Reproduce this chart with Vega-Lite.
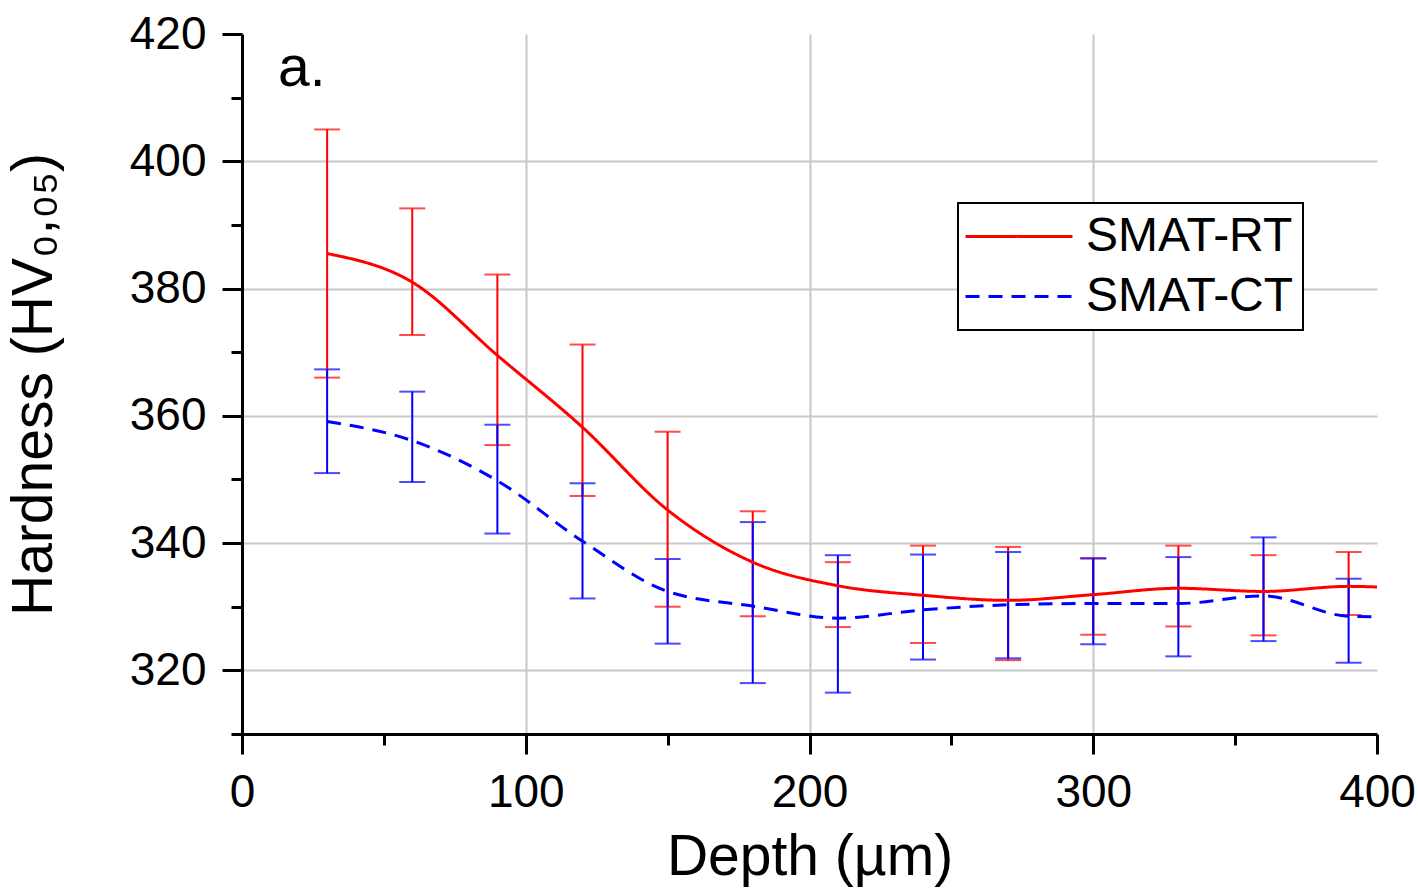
{
  "$schema": "https://vega.github.io/schema/vega-lite/v6.json",
  "width": 1135,
  "height": 700,
  "autosize": "none",
  "padding": {"left": 242, "top": 34, "right": 41, "bottom": 158},
  "background": "white",
  "config": {
    "view": {"stroke": null},
    "font": "Liberation Sans",
    "axis": {
      "domainColor": "black",
      "domainWidth": 3,
      "tickColor": "black",
      "tickWidth": 3,
      "labelFontSize": 46,
      "labelColor": "black",
      "labelFlush": false,
      "labelOverlap": false,
      "labelPadding": 16,
      "titleFontSize": 57,
      "titleFontWeight": "normal",
      "titleColor": "black",
      "gridColor": "#c8c8c8",
      "gridWidth": 2
    }
  },
  "data": {
    "values": [
      {"depth": 30, "series": "SMAT-RT", "hardness": 385.5, "lower": 366.0, "upper": 405.0},
      {"depth": 60, "series": "SMAT-RT", "hardness": 381.0, "lower": 372.7, "upper": 392.6},
      {"depth": 90, "series": "SMAT-RT", "hardness": 369.5, "lower": 355.4, "upper": 382.2},
      {"depth": 120, "series": "SMAT-RT", "hardness": 358.2, "lower": 347.4, "upper": 371.2},
      {"depth": 150, "series": "SMAT-RT", "hardness": 345.2, "lower": 330.0, "upper": 357.5},
      {"depth": 180, "series": "SMAT-RT", "hardness": 337.0, "lower": 328.5, "upper": 345.0},
      {"depth": 210, "series": "SMAT-RT", "hardness": 333.3, "lower": 326.8, "upper": 337.0},
      {"depth": 240, "series": "SMAT-RT", "hardness": 331.8, "lower": 324.3, "upper": 339.6},
      {"depth": 270, "series": "SMAT-RT", "hardness": 331.0, "lower": 321.6, "upper": 339.4},
      {"depth": 300, "series": "SMAT-RT", "hardness": 331.9, "lower": 325.6, "upper": 337.6},
      {"depth": 330, "series": "SMAT-RT", "hardness": 332.9, "lower": 326.9, "upper": 339.6},
      {"depth": 360, "series": "SMAT-RT", "hardness": 332.4, "lower": 325.5, "upper": 338.1},
      {"depth": 390, "series": "SMAT-RT", "hardness": 333.2, "lower": 328.7, "upper": 338.6},
      {"depth": 400, "series": "SMAT-RT", "hardness": 333.1, "lower": null, "upper": null},
      {"depth": 30, "series": "SMAT-CT", "hardness": 359.1, "lower": 351.0, "upper": 367.3},
      {"depth": 60, "series": "SMAT-CT", "hardness": 356.1, "lower": 349.6, "upper": 363.8},
      {"depth": 90, "series": "SMAT-CT", "hardness": 349.8, "lower": 341.5, "upper": 358.6},
      {"depth": 120, "series": "SMAT-CT", "hardness": 340.3, "lower": 331.3, "upper": 349.4},
      {"depth": 150, "series": "SMAT-CT", "hardness": 332.4, "lower": 324.2, "upper": 337.5},
      {"depth": 180, "series": "SMAT-CT", "hardness": 330.1, "lower": 318.0, "upper": 343.3},
      {"depth": 210, "series": "SMAT-CT", "hardness": 328.2, "lower": 316.5, "upper": 338.1},
      {"depth": 240, "series": "SMAT-CT", "hardness": 329.5, "lower": 321.7, "upper": 338.2},
      {"depth": 270, "series": "SMAT-CT", "hardness": 330.3, "lower": 321.9, "upper": 338.6},
      {"depth": 300, "series": "SMAT-CT", "hardness": 330.5, "lower": 324.1, "upper": 337.6},
      {"depth": 330, "series": "SMAT-CT", "hardness": 330.5, "lower": 322.2, "upper": 337.8},
      {"depth": 360, "series": "SMAT-CT", "hardness": 331.7, "lower": 324.6, "upper": 340.9},
      {"depth": 390, "series": "SMAT-CT", "hardness": 328.5, "lower": 321.2, "upper": 334.4},
      {"depth": 400, "series": "SMAT-CT", "hardness": 328.4, "lower": null, "upper": null}
    ]
  },
  "layer": [
    {
      "mark": {"type": "errorbar", "ticks": {"size": 26, "thickness": 2}, "thickness": 2},
      "encoding": {
        "x": {
          "field": "depth",
          "type": "quantitative",
          "scale": {"domain": [0, 400], "nice": false, "zero": false},
          "axis": {
            "title": "Depth (µm)",
            "titlePadding": 14,
            "values": [0, 50, 100, 150, 200, 250, 300, 350, 400],
            "labelExpr": "datum.value % 100 == 0 ? datum.label : ''",
            "tickSize": {"condition": {"test": "datum.value % 100 == 0", "value": 20}, "value": 11},
            "gridOpacity": {"condition": {"test": "datum.value % 100 != 0 || datum.value == 0 || datum.value == 400", "value": 0}, "value": 1}
          }
        },
        "y": {
          "field": "lower",
          "type": "quantitative",
          "scale": {"domain": [310, 420], "nice": false, "zero": false},
          "axis": {
            "title": "Hardness (HV₀,₀₅)",
            "titlePadding": 66,
            "values": [310, 320, 330, 340, 350, 360, 370, 380, 390, 400, 410, 420],
            "labelExpr": "datum.value % 20 == 0 ? datum.label : ''",
            "tickSize": {"condition": {"test": "datum.value % 20 == 0", "value": 20}, "value": 11},
            "gridOpacity": {"condition": {"test": "datum.value % 20 != 0 || datum.value >= 420", "value": 0}, "value": 1}
          }
        },
        "y2": {"field": "upper"},
        "color": {
          "field": "series",
          "type": "nominal",
          "scale": {"domain": ["SMAT-RT", "SMAT-CT"], "range": ["#ff0000", "#0000ff"]}
        }
      }
    },
    {
      "mark": {"type": "line", "interpolate": "monotone", "strokeWidth": 3},
      "encoding": {
        "x": {"field": "depth", "type": "quantitative", "title": "Depth (µm)"},
        "y": {"field": "hardness", "type": "quantitative", "title": "Hardness (HV₀,₀₅)"},
        "color": {
          "field": "series",
          "type": "nominal",
          "scale": {"domain": ["SMAT-RT", "SMAT-CT"], "range": ["#ff0000", "#0000ff"]},
          "legend": {
            "orient": "none",
            "legendX": 716,
            "legendY": 169,
            "title": null,
            "labelFontSize": 48,
            "labelColor": "black",
            "labelLimit": 400,
            "symbolType": "M-1.13,0H3.52",
            "symbolSize": 2116,
            "symbolStrokeWidth": 3,
            "strokeColor": "black",
            "fillColor": "white",
            "padding": 9,
            "rowPadding": 11,
            "labelOffset": 70,
            "encode": {"legend": {"update": {"strokeWidth": {"value": 2}}}}
          }
        },
        "strokeDash": {
          "field": "series",
          "type": "nominal",
          "scale": {"domain": ["SMAT-RT", "SMAT-CT"], "range": [[1, 0], [14, 9]]}
        }
      }
    },
    {
      "data": {"values": [{"label": "a."}]},
      "mark": {"type": "text", "fontSize": 57, "align": "left", "baseline": "alphabetic", "color": "black"},
      "encoding": {
        "x": {"datum": 12.7, "type": "quantitative"},
        "y": {"datum": 411.8, "type": "quantitative"},
        "text": {"field": "label"}
      }
    }
  ]
}
